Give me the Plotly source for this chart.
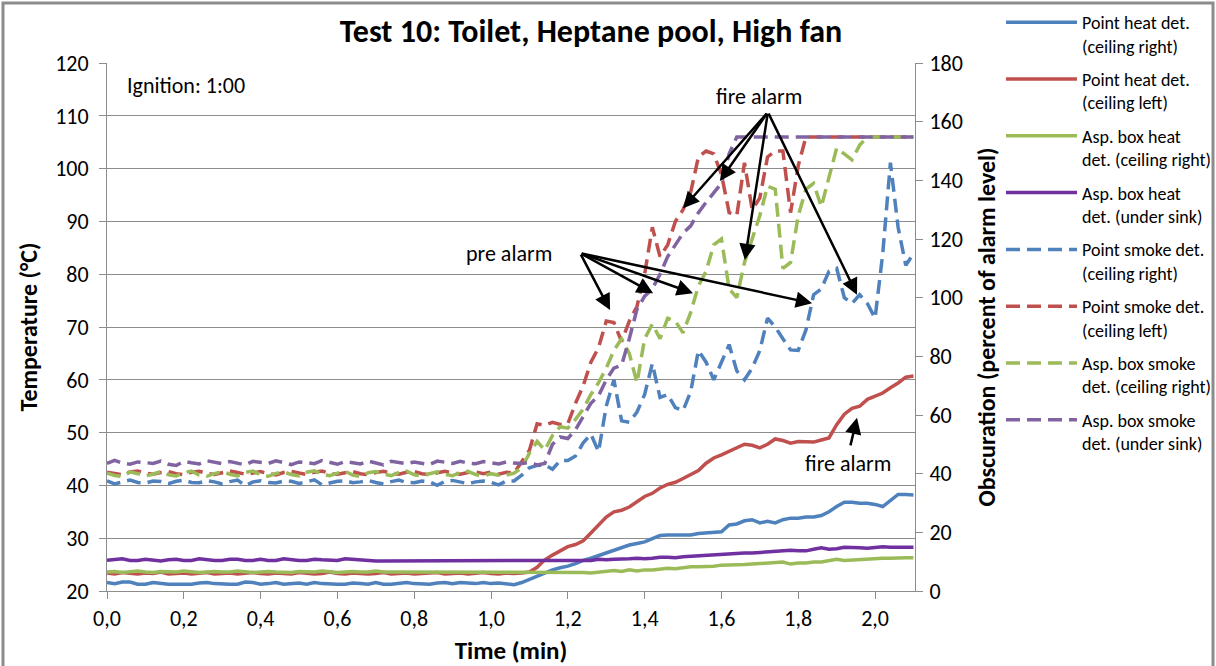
import plotly.graph_objects as go

# ---------------- data ----------------
time_min = [round(0.02 * i, 2) for i in range(106)]

names = [
    "Point heat det.<br>(ceiling right)",
    "Point heat det.<br>(ceiling left)",
    "Asp. box heat<br>det. (ceiling right)",
    "Asp. box heat<br>det. (under sink)",
    "Point smoke det.<br>(ceiling right)",
    "Point smoke det.<br>(ceiling left)",
    "Asp. box smoke<br>det. (ceiling right)",
    "Asp. box smoke<br>det. (under sink)",
]

# Temperatures (°C), left axis
heat_point_right = [
    21.6, 21.4, 21.7, 21.7, 21.3, 21.3, 21.6, 21.4, 21.3, 21.3,
    21.3, 21.3, 21.5, 21.6, 21.4, 21.3, 21.3, 21.3, 21.7, 21.6,
    21.3, 21.4, 21.6, 21.3, 21.4, 21.5, 21.3, 21.6, 21.4, 21.3,
    21.3, 21.3, 21.5, 21.4, 21.3, 21.6, 21.3, 21.3, 21.4, 21.6,
    21.4, 21.3, 21.3, 21.5, 21.6, 21.4, 21.6, 21.5, 21.4, 21.6,
    21.4, 21.5, 21.4, 21.2, 21.6, 22.2, 22.8, 23.4, 24.0, 24.4,
    24.7, 25.2, 25.8, 26.2, 26.7, 27.1, 27.6, 28.2, 28.7, 29.0,
    29.3, 29.9, 30.5, 30.6, 30.6, 30.6, 30.6, 30.9, 31.0, 31.1,
    31.2, 32.5, 32.7, 33.3, 33.5, 32.9, 33.2, 32.9, 33.5, 33.8,
    33.8, 34.0, 34.0, 34.3, 35.0, 36.0, 36.8, 36.8, 36.6, 36.6,
    36.4, 36.0, 37.2, 38.3, 38.3, 38.2,
]
heat_point_left = [
    23.4, 23.2, 23.5, 23.3, 23.2, 23.4, 23.3, 23.6, 23.2, 23.3,
    23.4, 23.2, 23.3, 23.5, 23.2, 23.3, 23.4, 23.2, 23.3, 23.5,
    23.3, 23.2, 23.4, 23.3, 23.2, 23.5, 23.3, 23.2, 23.3, 23.6,
    23.3, 23.2, 23.4, 23.3, 23.2, 23.3, 23.5, 23.2, 23.3, 23.4,
    23.2, 23.3, 23.3, 23.5, 23.2, 23.3, 23.4, 23.2, 23.3, 23.5,
    23.3, 23.2, 23.4, 23.3, 23.4, 23.6, 24.5, 25.9, 26.8, 27.6,
    28.4, 28.8, 29.5, 31.0, 32.5, 34.0, 35.0, 35.3, 35.9, 37.0,
    37.9, 38.5, 39.5, 40.2, 40.6, 41.3, 42.0, 42.8, 44.2, 45.2,
    45.8, 46.5, 47.2, 47.8, 47.6, 47.1, 47.8, 48.8, 48.5, 48.0,
    48.3, 48.3, 48.2, 48.6, 49.0, 51.5, 53.5, 54.6, 55.0, 56.3,
    56.9, 57.5, 58.5, 59.4, 60.5, 60.7,
]
heat_asp_right = [
    23.6, 23.7, 23.5, 23.6, 23.8, 23.6, 23.5, 23.7, 23.6, 23.6,
    23.8, 23.6, 23.5, 23.6, 23.7, 23.6, 23.6, 23.8, 23.6, 23.5,
    23.6, 23.7, 23.6, 23.6, 23.5, 23.7, 23.6, 23.6, 23.8, 23.6,
    23.5, 23.6, 23.7, 23.6, 23.6, 23.8, 23.6, 23.6, 23.6, 23.6,
    23.6, 23.6, 23.6, 23.6, 23.6, 23.6, 23.6, 23.6, 23.6, 23.6,
    23.6, 23.6, 23.6, 23.6, 23.6, 23.6, 23.6, 23.6, 23.6, 23.6,
    23.6, 23.6, 23.5, 23.4, 23.6, 23.7, 23.9, 23.7, 24.0, 23.8,
    24.0, 24.0, 24.1, 24.3, 24.2, 24.4, 24.6, 24.6, 24.6, 24.7,
    24.9, 24.9, 25.0, 25.0, 25.1, 25.2, 25.4, 25.5, 25.5, 25.1,
    25.3, 25.3, 25.5, 25.5, 25.8, 26.0, 25.8, 25.9, 25.9, 26.0,
    26.1, 26.2, 26.2, 26.3, 26.3, 26.3,
]
heat_asp_sink = [
    25.8, 26.0, 26.1, 25.8, 25.8, 26.0, 25.8, 25.7, 25.9, 26.0,
    25.8, 25.8, 26.1, 25.9, 25.8, 25.8, 26.0, 26.0, 25.8, 25.8,
    26.0, 25.8, 25.8, 26.1, 25.9, 25.8, 25.8, 26.0, 25.9, 25.8,
    25.8, 26.1, 26.0, 25.8, 25.7, 25.7, 25.7, 25.7, 25.7, 25.7,
    25.7, 25.7, 25.7, 25.7, 25.7, 25.7, 25.7, 25.7, 25.7, 25.7,
    25.7, 25.7, 25.7, 25.7, 25.7, 25.7, 25.7, 25.7, 25.7, 25.7,
    25.7, 25.7, 25.7, 25.8, 26.0, 25.9, 26.0, 26.0, 26.1, 26.2,
    26.1, 26.2, 26.4, 26.4, 26.3, 26.5, 26.6, 26.6, 26.8, 26.8,
    27.0, 27.1, 27.2, 27.2, 27.2, 27.3, 27.4, 27.5, 27.7, 27.7,
    27.6, 27.6, 27.9, 28.2, 27.9, 28.0, 28.3, 28.3, 28.2, 28.1,
    28.3, 28.4, 28.3, 28.3, 28.3, 28.3,
]

# Obscuration (% of alarm level), right axis
smoke_point_right = [
    37.5, 36.5, 37.2, 37.8, 37.0, 36.8, 37.5, 37.3, 36.6, 37.4,
    37.8, 37.0, 36.9, 37.6, 37.2, 36.5, 37.3, 37.8, 35.9, 37.2,
    37.6, 37.0, 36.8, 37.5, 37.4, 36.7, 37.2, 37.9, 36.2, 36.8,
    37.4, 37.6, 36.9, 37.2, 37.7, 37.0, 36.5, 37.3, 37.8, 37.0,
    36.9, 37.5, 37.2, 36.0, 37.4, 37.7, 37.0, 36.6, 37.2, 37.5,
    37.0, 36.2, 37.5, 37.5, 39.5, 42.0, 42.8, 43.0, 41.5, 44.5,
    44.5, 46.0, 50.5, 53.5, 47.5, 63.0, 72.0, 58.0, 57.5, 61.0,
    67.0, 77.5, 66.0, 67.0, 62.5, 61.5, 68.0, 82.0, 78.0, 72.0,
    78.0, 84.0, 75.0, 72.0, 76.0, 82.0, 93.0, 90.0, 86.0, 82.2,
    82.0, 89.0, 101.0, 103.0, 109.0, 110.0, 100.0, 98.0, 101.0, 98.0,
    93.0, 115.0, 146.0, 124.0, 111.0, 115.0,
]
smoke_point_left = [
    40.5, 40.0, 39.6, 40.6, 40.9, 40.2, 39.8, 40.4, 40.7, 40.0,
    39.6, 40.5, 40.8, 40.1, 39.7, 40.3, 40.9, 40.4, 39.8, 40.2,
    40.7, 40.0, 39.6, 40.4, 40.8, 40.2, 39.7, 40.5, 40.9, 40.1,
    39.8, 40.3, 40.7, 40.0, 39.6, 40.4, 40.8, 40.2, 39.8, 40.5,
    40.7, 40.0, 39.7, 40.3, 40.8, 40.2, 39.8, 40.4, 40.6, 40.0,
    40.5, 39.8, 40.5, 40.2, 44.0, 48.0, 57.0, 56.5, 57.5, 56.8,
    57.0, 64.0, 70.0, 78.0, 83.0, 92.0, 91.5, 85.0, 92.0, 97.0,
    108.0, 124.0, 114.0, 118.0, 126.0, 130.0, 136.0, 148.0, 150.0, 149.0,
    142.0, 129.0, 128.0, 146.0, 130.0, 134.0, 148.0, 150.0, 150.0, 129.0,
    145.0, 154.8, 154.8, 154.8, 154.8, 154.8, 154.8, 154.8, 154.8, 154.8,
    154.8, 154.8, 154.8, 154.8, 154.8, 154.8,
]
smoke_asp_right = [
    40.2, 39.4, 39.0, 40.6, 40.0, 39.3, 39.8, 40.8, 39.6, 39.2,
    40.3, 40.9, 39.5, 39.1, 40.0, 40.7, 39.8, 39.2, 40.4, 40.9,
    39.6, 39.1, 40.1, 40.6, 39.7, 39.2, 40.5, 41.0, 39.8, 39.3,
    40.2, 40.8, 39.5, 39.0, 40.3, 40.7, 39.9, 39.3, 40.4, 40.9,
    39.6, 39.2, 40.0, 40.6, 39.8, 39.3, 40.5, 40.8, 39.7, 39.2,
    40.0, 39.5, 39.5, 40.2, 42.0, 47.0, 51.0, 48.0, 53.0, 56.0,
    55.5, 58.5, 62.0, 67.0, 71.0, 76.0, 82.0, 86.0, 81.0, 71.0,
    86.0, 91.0, 86.0, 93.0, 92.0, 88.0, 95.0, 104.0, 109.0, 118.0,
    120.0, 103.0, 100.0, 112.0, 120.0, 128.0, 138.0, 137.0, 110.0, 112.0,
    128.0, 137.0, 139.0, 131.0, 141.0, 151.0, 149.0, 147.0, 152.0, 154.8,
    154.8, 154.8, 154.8, 154.8, 154.8, 154.8,
]
smoke_asp_sink = [
    43.5, 44.5, 43.6, 43.2, 44.0, 43.8, 43.5, 44.3, 43.2, 42.8,
    44.2, 43.7, 43.3, 44.4, 43.9, 43.4, 44.1, 43.6, 43.0, 44.2,
    43.8, 43.5, 44.4, 43.7, 43.1, 44.0, 43.6, 43.4, 44.5, 43.8,
    43.2, 44.1, 43.7, 43.3, 44.3, 43.6, 43.0, 44.2, 43.8, 43.4,
    44.0, 43.5, 43.1, 44.3, 43.9, 43.5, 44.2, 43.6, 43.4, 44.1,
    43.7, 43.3, 44.0, 43.6, 43.5, 43.8, 43.0, 43.5, 50.0, 52.5,
    52.0, 55.0, 59.5, 64.0, 66.5, 72.0, 76.0, 77.0, 86.0, 96.0,
    100.5, 103.0, 108.0, 114.0, 118.0, 122.0, 124.5, 129.0, 132.5, 136.0,
    139.0, 149.0, 154.8, 154.8, 154.8, 154.8, 154.8, 154.8, 154.8, 154.8,
    154.8, 154.8, 154.8, 154.8, 154.8, 154.8, 154.8, 154.8, 154.8, 154.8,
    154.8, 154.8, 154.8, 154.8, 154.8, 154.8,
]

x_ticks = [0.0, 0.2, 0.4, 0.6, 0.8, 1.0, 1.2, 1.4, 1.6, 1.8, 2.0]
left_ticks = [20, 30, 40, 50, 60, 70, 80, 90, 100, 110, 120]
right_ticks = [0, 20, 40, 60, 80, 100, 120, 140, 160, 180]

# ---------------- styling ----------------
FONT = "Carlito, Lato, sans-serif"
BLUE, RED, GREEN = "#4F81BD", "#C0504D", "#9BBB59"
PURPLE_SOLID, PURPLE_DASH = "#7030A0", "#8064A2"
LW = 3.5
DASH = "14px,7px"

heat_series = [heat_point_right, heat_point_left, heat_asp_right, heat_asp_sink]
smoke_series = [smoke_point_right, smoke_point_left, smoke_asp_right, smoke_asp_sink]
heat_colors = [BLUE, RED, GREEN, PURPLE_SOLID]
smoke_colors = [BLUE, RED, GREEN, PURPLE_DASH]

fig = go.Figure()
for k, (vals, col) in enumerate(zip(heat_series, heat_colors)):
    fig.add_trace(go.Scatter(
        x=time_min, y=vals, name=names[k], mode="lines", yaxis="y",
        line=dict(color=col, width=LW), legendgroup=f"g{k}"))
for k, (vals, col) in enumerate(zip(smoke_series, smoke_colors)):
    fig.add_trace(go.Scatter(
        x=time_min, y=vals, name=names[4 + k], mode="lines", yaxis="y2",
        line=dict(color=col, width=LW, dash=DASH), legendgroup=f"g{4 + k}"))

GRID = "#8C8C8C"
fig.update_layout(
    width=1216, height=666, autosize=False,
    margin=dict(l=107, r=301, t=63, b=75, pad=0),
    paper_bgcolor="white", plot_bgcolor="white",
    separators=",.",
    font=dict(family=FONT, color="#000000", size=20),
    title=dict(text="<b>Test 10: Toilet, Heptane pool, High fan</b>",
               x=591 / 1216, xanchor="center", y=1 - 31 / 666, yanchor="middle",
               font=dict(size=32, family=FONT)),
    xaxis=dict(range=[0, 2.104], tickvals=x_ticks, tickformat=".1f", automargin=False,
               showgrid=False, zeroline=False, showline=True, linecolor=GRID, linewidth=1,
               ticks="outside", ticklen=7, tickcolor=GRID, ticklabelstandoff=1,
               tickfont=dict(size=22, family=FONT),
               title=dict(text="<b>Time (min)</b>", font=dict(size=25, family=FONT), standoff=12)),
    yaxis=dict(range=[20, 120], tickvals=left_ticks, automargin=False,
               showgrid=True, gridcolor=GRID, gridwidth=1, zeroline=False,
               showline=True, linecolor=GRID, linewidth=1,
               ticks="outside", ticklen=7, tickcolor=GRID, ticklabelstandoff=6,
               tickfont=dict(size=22, family=FONT),
               title=dict(text="<b>Temperature (°C)</b>", font=dict(size=24, family=FONT), standoff=10)),
    yaxis2=dict(range=[0, 180], tickvals=right_ticks, overlaying="y", side="right",
                automargin=False,
                showgrid=False, zeroline=False, showline=True, linecolor=GRID, linewidth=1,
                ticks="outside", ticklen=7, tickcolor=GRID, ticklabelstandoff=2,
                tickfont=dict(size=22, family=FONT),
                title=dict(text="<b>Obscuration (percent of alarm level)</b>",
                           font=dict(size=24, family=FONT), standoff=26)),
    legend=dict(xref="container", yref="container",
                x=1001 / 1216, xanchor="left", y=1 - 4 / 666, yanchor="top",
                font=dict(size=18, family=FONT), valign="top",
                tracegroupgap=7, itemwidth=71, bgcolor="rgba(0,0,0,0)",
                traceorder="grouped", maxheight=660),
    showlegend=True,
)

# frame around the whole chart
fig.add_shape(type="rect", xref="paper", yref="paper",
              x0=(3 - 107) / 808, x1=(1213 - 107) / 808,
              y0=(591 - 672) / 528, y1=(591 - 3) / 528,
              line=dict(color="#8C8C8C", width=3), fillcolor="rgba(0,0,0,0)", layer="below")

# text annotations
def label(text, x, y, anchor="center"):
    fig.add_annotation(x=x, y=y, xref="x", yref="y", text=text, showarrow=False,
                       xanchor=anchor, yanchor="middle", font=dict(size=22, family=FONT))

label("Ignition: 1:00", 0.047, 115.8, "left")
label("fire alarm", 1.698, 113.6)
label("pre alarm", 1.047, 84.0)
label("fire alarm", 1.930, 44.2)

def arrow(tail, head):
    fig.add_annotation(x=head[0], y=head[1], ax=tail[0], ay=tail[1],
                       xref="x", yref="y", axref="x", ayref="y", text="",
                       showarrow=True, arrowhead=2, arrowsize=1.3, arrowwidth=2.5,
                       arrowcolor="#000000")

fire_tail = (1.721, 110.7)
for head in [(1.500, 92.5), (1.596, 97.65), (1.661, 82.7), (1.953, 76.1)]:
    arrow(fire_tail, head)
pre_tail = (1.232, 84.0)
for head in [(1.310, 73.2), (1.422, 76.4), (1.526, 76.4), (1.836, 74.5)]:
    arrow(pre_tail, head)
arrow((1.935, 47.3), (1.953, 52.8))

fig.write_html("out.html")
